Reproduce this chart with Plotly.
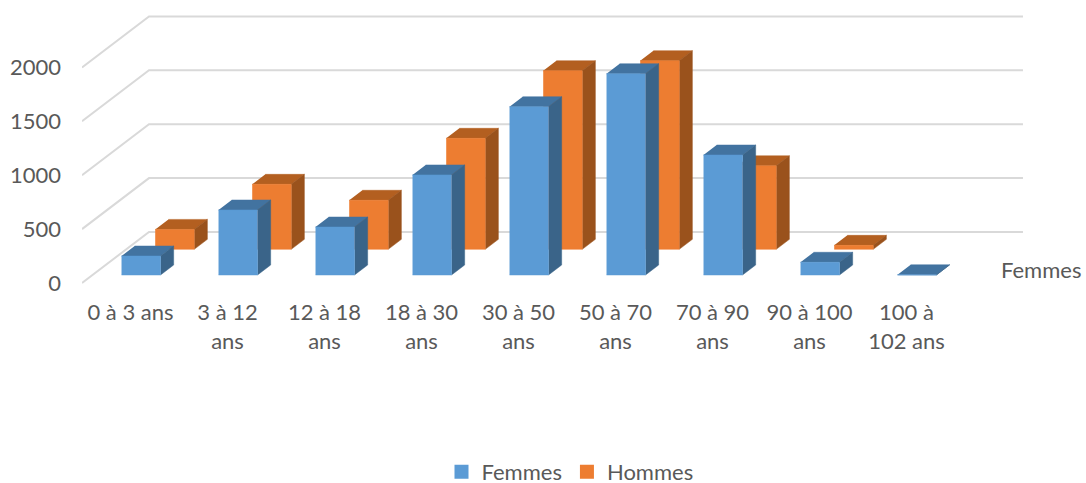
import plotly.graph_objects as go

# ---- data ----
categories = ["0 à 3 ans", "3 à 12<br>ans", "12 à 18<br>ans", "18 à 30<br>ans", "30 à 50<br>ans",
              "50 à 70<br>ans", "70 à 90<br>ans", "90 à 100<br>ans", "100 à<br>102 ans"]
femmes = [176, 603, 445, 928, 1561, 1867, 1113, 118, 2]
hommes = [185, 603, 455, 1030, 1657, 1750, 775, 37, None]
y_ticks = [0, 500, 1000, 1500, 2000]

# ---- oblique projection of the 3D chart onto the 2D axes ----
PX_PER_CAT = 97.0
PX_PER_VAL = 0.1078
DEPTH_X = 67.0 / PX_PER_CAT     # one full floor depth, in category units
DEPTH_Y = 51.0 / PX_PER_VAL     # one full floor depth, in value units
BAR_W = 39.0 / PX_PER_CAT
BAR_D = 10.0 / 51.0


def proj(x, v, d):
    return x + d * DEPTH_X, v + d * DEPTH_Y


def faces(values, depth):
    front, side, top = ([], []), ([], []), ([], [])

    def add(store, pts):
        for p in pts:
            store[0].append(p[0])
            store[1].append(p[1])
        store[0].append(None)
        store[1].append(None)

    for i, v in enumerate(values):
        if v is None:
            continue
        x0, x1 = i - BAR_W / 2, i + BAR_W / 2
        d0, d1 = depth, depth + BAR_D
        add(front, [proj(x0, 0, d0), proj(x1, 0, d0), proj(x1, v, d0), proj(x0, v, d0)])
        add(side, [proj(x1, 0, d0), proj(x1, 0, d1), proj(x1, v, d1), proj(x1, v, d0)])
        add(top, [proj(x0, v, d0), proj(x1, v, d0), proj(x1, v, d1), proj(x0, v, d1)])
    return front, side, top


fig = go.Figure()

gx, gy = [], []
for t in y_ticks:
    for p in [proj(-0.5, t, 0), proj(-0.5, t, 1), proj(8.51, t, 1)]:
        gx.append(p[0])
        gy.append(p[1])
    gx.append(None)
    gy.append(None)
fig.add_trace(go.Scatter(x=gx, y=gy, mode="lines", line=dict(color="#D9D9D9", width=2),
                         showlegend=False, hoverinfo="skip"))

series = [
    ("Hommes", hommes, 0.66, "#ED7D31", "#9A521C", "#B35F20"),
    ("Femmes", femmes, 0.157, "#5B9BD5", "#3A6489", "#4273A0"),
]
for name, vals, depth, c_front, c_side, c_top in series:
    front, side, top = faces(vals, depth)
    for (px, py), col in ((top, c_top), (side, c_side), (front, c_front)):
        fig.add_trace(go.Scatter(x=px, y=py, mode="lines", fill="toself", fillcolor=col,
                                 line=dict(color=col, width=0.5), showlegend=False,
                                 hoverinfo="skip"))

for name, col in (("Femmes", "#5B9BD5"), ("Hommes", "#ED7D31")):
    fig.add_trace(go.Scatter(x=[None], y=[None], mode="markers", name=name,
                             marker=dict(symbol="square", size=14, color=col)))

W, H = 1086, 483
FIG_H = H + 40   # legend box needs a little room below the visible page
L, PLOT_BOTTOM = 82, 297
fig.update_layout(
    width=W, height=FIG_H,
    autosize=False,
    margin=dict(l=L, r=0, t=0, b=FIG_H - PLOT_BOTTOM, pad=0),
    paper_bgcolor="white", plot_bgcolor="white",
    font=dict(family="Lato, 'Open Sans', sans-serif", size=22, color="#595959"),
    xaxis=dict(range=[-0.5, (W - 130.5) / PX_PER_CAT], tickmode="array",
               tickvals=list(range(len(categories))), ticktext=categories,
               showgrid=False, zeroline=False, showline=False, ticks="", ticklen=0,
               tickangle=0, fixedrange=True, automargin=False),
    yaxis=dict(range=[(283 - PLOT_BOTTOM) / PX_PER_VAL, 283 / PX_PER_VAL], tickmode="array",
               tickvals=y_ticks, ticktext=[str(t) for t in y_ticks],
               showgrid=False, zeroline=False, showline=False, ticks="", ticklen=0,
               ticklabelstandoff=20, fixedrange=True, automargin=False),
    legend=dict(orientation="h", x=(570 - L) / (W - L), xanchor="center",
                y=1 - 472 / PLOT_BOTTOM, yanchor="middle",
                itemwidth=30, font=dict(size=22), traceorder="normal",
                borderwidth=6, bordercolor="rgba(255,255,255,0)"),
    annotations=[dict(text="Femmes", x=(1041 - 130.5) / PX_PER_CAT, y=(283 - 269) / PX_PER_VAL,
                      xref="x", yref="y", showarrow=False, xanchor="center", yanchor="middle")],
)
fig.write_html("out.html", config=dict(displayModeBar=False),
               post_script="document.body.style.margin='0';document.documentElement.style.overflow='hidden';")
